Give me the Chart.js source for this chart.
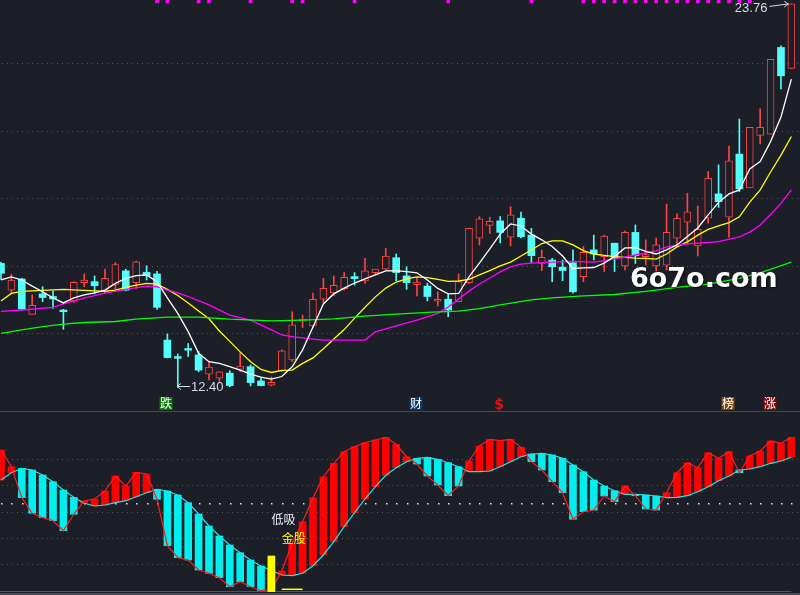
<!DOCTYPE html>
<html><head><meta charset="utf-8">
<script src="https://cdn.jsdelivr.net/npm/chart.js"></script>
<style>
html,body{margin:0;padding:0;background:#1c1f27;overflow:hidden}
#wrap{position:relative;width:800px;height:595px;background:#1c1f27}
#c1{position:absolute;left:0;top:0}
#c2{position:absolute;left:0;top:412px}
#sep{position:absolute;left:0;top:411px;width:800px;height:1px;background:#444852}
</style></head><body>
<div id="wrap"><canvas id="c1" width="800" height="411"></canvas><div id="sep"></div><canvas id="c2" width="800" height="183"></canvas></div>
<script>
// ---- price candles (77 sessions) ----
const open = [16.07,15.28,15.61,14.56,15.17,15.09,14.69,14.96,15.50,15.53, 15.25,15.45,15.85,15.50,15.81,15.76,13.80,13.31,13.55,13.36, 12.79,12.67,12.82,12.93,13.01,12.59,12.46,12.88,13.21,14.36, 14.22,15.01,15.20,15.32,15.68,15.55,15.80,15.90,16.24,15.70, 15.44,15.40,14.95,15.01,14.94,15.50,16.82,17.20,17.33,16.85, 17.41,16.91,16.07,16.17,15.96,16.09,15.68,16.47,16.27,16.67, 16.00,16.99,16.27,16.00,16.02,16.82,17.29,16.59,17.41,18.13, 17.44,19.31,18.31,19.86,19.90,22.47,21.85];
const high = [16.10,15.75,15.63,15.14,15.38,15.25,14.71,15.53,15.76,15.70, 15.90,16.09,15.90,16.14,16.00,15.84,13.98,13.39,13.70,13.46, 13.16,12.86,12.89,13.43,13.06,12.67,12.71,13.51,14.64,14.54, 15.19,15.63,15.70,15.80,15.80,16.22,15.90,16.52,16.35,15.97, 15.65,15.48,15.23,15.16,15.76,17.11,17.46,17.44,17.46,17.75, 17.59,17.11,16.47,16.22,16.17,16.47,16.57,16.91,16.91,16.67, 17.03,17.21,16.77,16.82,17.83,17.54,18.15,17.77,18.79,18.99, 19.55,20.35,20.10,20.65,22.12,22.52,23.76];
const low = [15.60,15.19,14.69,14.56,14.94,14.74,14.12,14.91,15.38,15.17, 15.19,15.28,15.26,15.33,15.58,14.71,13.27,12.40,13.31,12.86, 12.62,12.57,12.42,12.86,12.44,12.44,12.44,12.86,13.16,14.17, 14.17,14.91,15.11,15.28,15.43,15.48,15.73,15.88,15.56,15.30, 15.11,14.96,14.81,14.49,14.94,15.48,16.62,16.96,16.68,16.59, 16.83,16.10,15.86,15.53,15.56,15.19,15.53,16.17,15.83,15.83, 15.88,16.07,16.03,15.85,15.88,16.57,16.67,16.29,17.26,17.73, 16.85,18.20,18.31,19.61,19.90,21.24,21.85];
const close = [15.78,15.58,14.72,14.83,15.06,15.02,14.64,15.51,15.58,15.41, 15.63,16.04,15.28,16.12,15.71,14.77,13.28,13.26,13.50,12.91, 13.00,12.86,12.45,13.03,12.54,12.45,12.55,13.48,14.25,14.42, 15.01,15.33,15.42,15.66,15.62,15.85,15.90,16.29,15.80,15.50, 15.52,15.09,15.01,14.69,15.53,17.11,17.39,17.32,16.99,17.51, 16.86,16.30,16.25,15.97,15.86,15.23,16.40,16.35,16.88,16.25, 16.99,16.30,16.33,16.62,16.99,17.41,17.60,17.08,18.59,17.90, 19.11,18.28,20.10,20.10,22.12,21.63,23.76];

// ---- moving-average lines ----
const maWhite = [15.58,15.67,15.58,15.40,15.23,15.05,14.90,15.05,15.14,15.20, 15.28,15.48,15.63,15.71,15.73,15.53,15.05,14.59,14.05,13.41, 13.16,13.11,13.01,12.91,12.79,12.70,12.64,12.72,13.01,13.51, 14.19,14.87,15.17,15.34,15.49,15.61,15.73,15.85,15.86,15.83, 15.79,15.58,15.33,15.17,15.18,15.67,16.08,16.50,16.94,17.24, 17.18,16.94,16.77,16.57,16.29,15.92,15.94,15.95,16.08,16.28, 16.53,16.54,16.43,16.35,16.47,16.62,16.87,17.12,17.51,17.88, 18.13,18.25,18.87,19.09,19.68,20.41,21.53];
const maYellowIdx = [0,1,2,4,6,8,10,11,12,13,14,15,16,17,18,19,20,21,22,23,24,25,26,27,28,29,30,31,32,33,34,35,36,37,38,39,40,41,42,43,44,45,46,47,48,49,50,51,52,53,54,55,56,57,58,59,60,61,62,63,64,65,66,67,68,69,70,71,72,73,74,75,76];
const maYellow = [14.96,15.18,15.24,15.27,15.30,15.27,15.24,15.28,15.36,15.43,15.48,15.46,15.30,15.12,14.90,14.66,14.43,14.07,13.76,13.45,13.16,12.93,12.84,12.90,12.91,13.11,13.27,13.54,13.83,14.11,14.45,14.77,15.08,15.34,15.52,15.61,15.67,15.65,15.60,15.54,15.55,15.60,15.73,15.86,16.00,16.11,16.29,16.47,16.66,16.74,16.74,16.62,16.45,16.35,16.31,16.27,16.25,16.23,16.22,16.20,16.35,16.56,16.71,16.91,17.08,17.18,17.28,17.45,17.89,18.25,18.78,19.28,19.83];
const maMagentaIdx = [0,2,5,6,8,10,12,14,15,16,17,18,20,22,24,26,27,28,30,31,35,36,38,40,42,43,44,45,46,47,48,49,50,51,53,55,57,59,61,63,64,66,68,69,71,72,73,74,75,76];
const maMagenta = [14.65,14.69,14.77,14.87,15.04,15.19,15.30,15.40,15.38,15.28,15.20,15.09,14.84,14.54,14.39,14.10,13.95,13.90,13.83,13.80,13.80,14.04,14.22,14.39,14.59,14.78,15.02,15.25,15.46,15.64,15.82,15.97,16.05,16.08,16.11,16.13,16.11,16.20,16.32,16.44,16.56,16.65,16.69,16.72,16.86,17.00,17.21,17.52,17.85,18.25];
const maGreenIdx = [0,2,4,6,8,11,13,16,19,22,26,29,32,35,38,41,44,46,48,51,53,56,59,62,65,68,71,73,76];
const maGreen = [14.00,14.10,14.20,14.27,14.32,14.35,14.42,14.48,14.48,14.42,14.37,14.39,14.43,14.51,14.57,14.62,14.66,14.73,14.84,14.99,15.05,15.11,15.15,15.24,15.36,15.46,15.63,15.79,16.11];

// ---- top signal marks, price grid, markers ----
const signalIdx = [15,16,19,20,24,28,29,34,43,51,56,57,58,59,60,61,62,63,64,65,66,67,68,69,70,71,72];
const priceGrid = [14,16,18,20,22];
const lowIdx = 17, highIdx = 76;
const boxIdx = [16,40,70,74];
const boxText = ['跌','财','榜','涨'];
const boxBg = ['#0b7a0b','#0d3a6c','#7a4912','#880b0b'];
const dollarIdx = 48;

// ---- lower indicator panel ----
const fastLine = [53.56,47.18,35.34,29.38,27.70,26.55,22.73,29.00,34.08,34.84, 37.90,43.63,39.81,45.04,44.39,34.73,17.00,12.42,11.54,7.72, 6.46,4.78,1.34,3.25,1.34,-0.19,0.30,7.34,17.92,26.17, 35.34,43.36,48.48,52.91,54.82,56.35,57.38,58.41,55.74,51.00, 48.21,43.63,40.19,36.10,39.81,49.36,55.09,57.65,57.11,57.65, 54.59,49.09,45.92,41.45,37.25,27.09,29.99,30.64,35.99,33.81, 39.81,36.10,31.02,30.64,37.25,44.89,48.71,46.80,52.53,50.39, 52.91,44.89,51.27,53.18,57.00,56.12,58.41];
const slowLine = [42.10,44.89,46.57,45.92,44.01,41.45,38.28,35.49,33.20,32.17, 32.55,33.43,34.19,35.72,37.25,38.55,37.90,36.37,33.43,29.11, 24.53,20.71,17.27,14.33,11.54,9.25,7.50,5.81,5.54,6.46, 9.36,13.45,18.53,24.26,29.61,34.84,39.54,43.90,46.80,49.09, 50.39,50.77,50.01,48.71,47.18,45.27,45.27,45.54,47.18,49.09, 51.00,52.03,52.30,51.65,50.39,47.83,45.27,42.10,39.81,38.01, 36.64,36.60,36.37,35.99,35.34,35.49,36.10,37.63,39.54,41.83, 43.63,45.92,46.30,47.18,48.48,49.36,50.77];
const goldIdx = [26], goldLow = [-0.57], goldHigh = [13.07];
const minorIdx = [27,29], minorVal = [0.35,0.35];
const subGrid = [10,20,30,40,50];
const refLevel = 33.2;
const baseLevel = -0.4;
const subLabels = [{t:'低吸', i:26, v:27.2, c:'#e8ecf4'}, {t:'金股', i:27, v:19.9, c:'#ffff00'}];

// ---- styling ----
const BG = '#1c1f27', RED = '#ff4242', CYAN = '#54fcfc', GRID = '#52565f', LBL = '#d4dae6';
const BRED = '#ff0000', BCYAN = '#00eeee';
const XMIN = -0.096, XMAX = 76.83;
const idx = open.map((_, i) => i);
const up = idx.map(i => close[i] >= open[i]);
const pts = (ix, vals) => ix.map((x, k) => ({x, y: vals[k]}));

const lineDs = (data, color, order, w) => ({type:'line', data, borderColor:color, borderWidth:w || 1.3, pointRadius:0, tension:0, order});

const mainDecor = {
  id:'mainDecor',
  beforeDatasetsDraw(chart){
    const {ctx, chartArea:a, scales:{y}} = chart;
    ctx.save();
    ctx.strokeStyle = GRID; ctx.lineWidth = 1; ctx.setLineDash([1,4]); ctx.lineDashOffset = -2;
    priceGrid.forEach(v => {
      const yy = Math.round(y.getPixelForValue(v)) + 0.5;
      ctx.beginPath(); ctx.moveTo(a.left, yy); ctx.lineTo(a.right, yy); ctx.stroke();
    });
    ctx.restore();
  },
  afterDatasetsDraw(chart){
    const {ctx, chartArea:a, scales:{x,y}} = chart;
    ctx.save();
    ctx.strokeStyle = LBL; ctx.fillStyle = LBL; ctx.lineWidth = 1;
    ctx.font = '13px "Liberation Sans", Arial, sans-serif';
    ctx.textBaseline = 'middle';
    const lx = Math.round(x.getPixelForValue(lowIdx)) - 1, ly = Math.round(y.getPixelForValue(low[lowIdx])) - 0.5;
    ctx.beginPath();
    ctx.moveTo(lx, ly); ctx.lineTo(lx + 13, ly);
    ctx.moveTo(lx + 4, ly - 3); ctx.lineTo(lx, ly); ctx.lineTo(lx + 4, ly + 3);
    ctx.stroke();
    ctx.textAlign = 'left';
    ctx.fillText(low[lowIdx].toFixed(2), lx + 14, ly + 1);
    const hx = x.getPixelForValue(highIdx), hy = y.getPixelForValue(high[highIdx]);
    ctx.beginPath();
    ctx.moveTo(hx - 22, hy + 2.5); ctx.lineTo(hx - 3, hy);
    ctx.moveTo(hx - 7, hy - 2.5); ctx.lineTo(hx - 3, hy); ctx.lineTo(hx - 7, hy + 3);
    ctx.stroke();
    ctx.textAlign = 'right';
    ctx.fillText(high[highIdx].toFixed(2), hx - 24, hy + 5);
    ctx.font = '12px "Noto Sans CJK SC", sans-serif';
    ctx.textAlign = 'center';
    boxIdx.forEach((bi, k) => {
      const cx = Math.round(x.getPixelForValue(bi)) - 1;
      ctx.fillStyle = boxBg[k];
      ctx.fillRect(cx - 6.5, a.bottom - 14, 13, 13);
      ctx.fillStyle = '#ffffff';
      ctx.fillText(boxText[k], cx, a.bottom - 7.5);
    });
    const dx = x.getPixelForValue(dollarIdx) - 1;
    ctx.fillStyle = '#e81010';
    ctx.font = 'bold 14px "DejaVu Sans", sans-serif';
    ctx.fillText('$', dx, a.bottom - 6);
    ctx.fillRect(dx - 1, a.bottom - 13, 2, 1);
    ctx.textAlign = 'left'; ctx.textBaseline = 'alphabetic';
    ctx.font = 'bold 27px "DejaVu Sans", sans-serif';
    ctx.shadowColor = 'rgba(0,0,0,0.7)'; ctx.shadowBlur = 2; ctx.shadowOffsetX = 1; ctx.shadowOffsetY = 1;
    ctx.fillStyle = '#ffffff';
    ctx.fillText('6o7o.com', 630, 287);
    ctx.restore();
  }
};

new Chart(document.getElementById('c1'), {
  type:'bar',
  data:{datasets:[
    lineDs(pts(maGreenIdx, maGreen), '#00ff00', 1),
    lineDs(pts(maMagentaIdx, maMagenta), '#ff00ff', 1),
    lineDs(pts(maYellowIdx, maYellow), '#ffff00', 1),
    lineDs(idx.map(i => ({x:i, y:maWhite[i]})), '#ffffff', 0),
    {type:'bar', data: signalIdx.map(i => ({x:i, y:[23.79, 23.876]})), backgroundColor:'#ff00ff', barThickness:3, grouped:false, order:2},
    {type:'bar', data: idx.map(i => ({x:i, y:[open[i], close[i]]})),
      backgroundColor: idx.map(i => up[i] ? BG : CYAN), borderColor: idx.map(i => up[i] ? RED : CYAN),
      borderWidth: idx.map(i => up[i] ? 1 : 0), borderSkipped:false, barThickness:7, grouped:false, order:4},
    {type:'bar', data: idx.map(i => ({x:i, y:[low[i], high[i]]})),
      backgroundColor: idx.map(i => up[i] ? RED : CYAN), barThickness:1, grouped:false, order:5}
  ]},
  options:{
    responsive:false, animation:false, devicePixelRatio:1, events:[],
    layout:{padding:0},
    plugins:{legend:{display:false}, tooltip:{enabled:false}},
    scales:{
      x:{type:'linear', min:XMIN, max:XMAX, display:false, offset:false, grid:{offset:false}},
      y:{type:'linear', min:11.698, max:23.876, display:false, beginAtZero:false}
    }
  },
  plugins:[mainDecor]
});

const subDecor = {
  id:'subDecor',
  beforeDatasetsDraw(chart){
    const {ctx, chartArea:a, scales:{x,y}} = chart;
    ctx.save();
    ctx.strokeStyle = GRID; ctx.lineWidth = 1; ctx.setLineDash([1,4]); ctx.lineDashOffset = -2;
    subGrid.forEach(v => {
      const yy = Math.round(y.getPixelForValue(v)) + 0.5;
      ctx.beginPath(); ctx.moveTo(a.left, yy); ctx.lineTo(a.right, yy); ctx.stroke();
    });
    ctx.setLineDash([]);
    ctx.fillStyle = '#e6e6e6';
    const ry = Math.round(y.getPixelForValue(refLevel));
    idx.forEach(i => ctx.fillRect(Math.round(x.getPixelForValue(i)), ry, 1.5, 1.5));
    ctx.fillStyle = '#e01818';
    const by = Math.round(y.getPixelForValue(baseLevel));
    ctx.fillRect(a.left, by, x.getPixelForValue(idx[idx.length - 1]) - a.left, 1);
    ctx.fillStyle = '#474a53';
    ctx.fillRect(a.left, a.bottom - 2, a.right - a.left, 2);
    ctx.restore();
  },
  afterDatasetsDraw(chart){
    const {ctx, scales:{x,y}} = chart;
    ctx.save();
    ctx.font = '12px "Noto Sans CJK SC", sans-serif';
    ctx.textBaseline = 'middle'; ctx.textAlign = 'left';
    subLabels.forEach(l => {
      ctx.fillStyle = l.c;
      ctx.fillText(l.t, x.getPixelForValue(l.i), y.getPixelForValue(l.v));
    });
    ctx.restore();
  }
};

new Chart(document.getElementById('c2'), {
  type:'bar',
  data:{datasets:[
    {type:'bar', data: goldIdx.map((g, k) => ({x:g, y:[goldLow[k], goldHigh[k]]})), backgroundColor:'#ffff00', barThickness:7, grouped:false, order:1},
    lineDs(idx.map(i => ({x:i, y:fastLine[i]})), '#ff1c1c', 2, 1.2),
    lineDs(idx.map(i => ({x:i, y:slowLine[i]})), '#22e4e4', 2, 1.2),
    {type:'line', data: pts(minorIdx, minorVal), borderColor:'#ffff00', borderWidth:1.5, pointRadius:0, order:2},
    {type:'bar', data: idx.map(i => ({x:i, y:[slowLine[i], fastLine[i]]})),
      backgroundColor: idx.map(i => fastLine[i] > slowLine[i] ? BRED : BCYAN), barThickness:7, grouped:false, borderWidth:0, order:3}
  ]},
  options:{
    responsive:false, animation:false, devicePixelRatio:1, events:[],
    layout:{padding:0},
    plugins:{legend:{display:false}, tooltip:{enabled:false}},
    scales:{
      x:{type:'linear', min:XMIN, max:XMAX, display:false, offset:false, grid:{offset:false}},
      y:{type:'linear', min:-1.834, max:68.08, display:false, beginAtZero:false}
    }
  },
  plugins:[subDecor]
});
</script>
</body></html>
